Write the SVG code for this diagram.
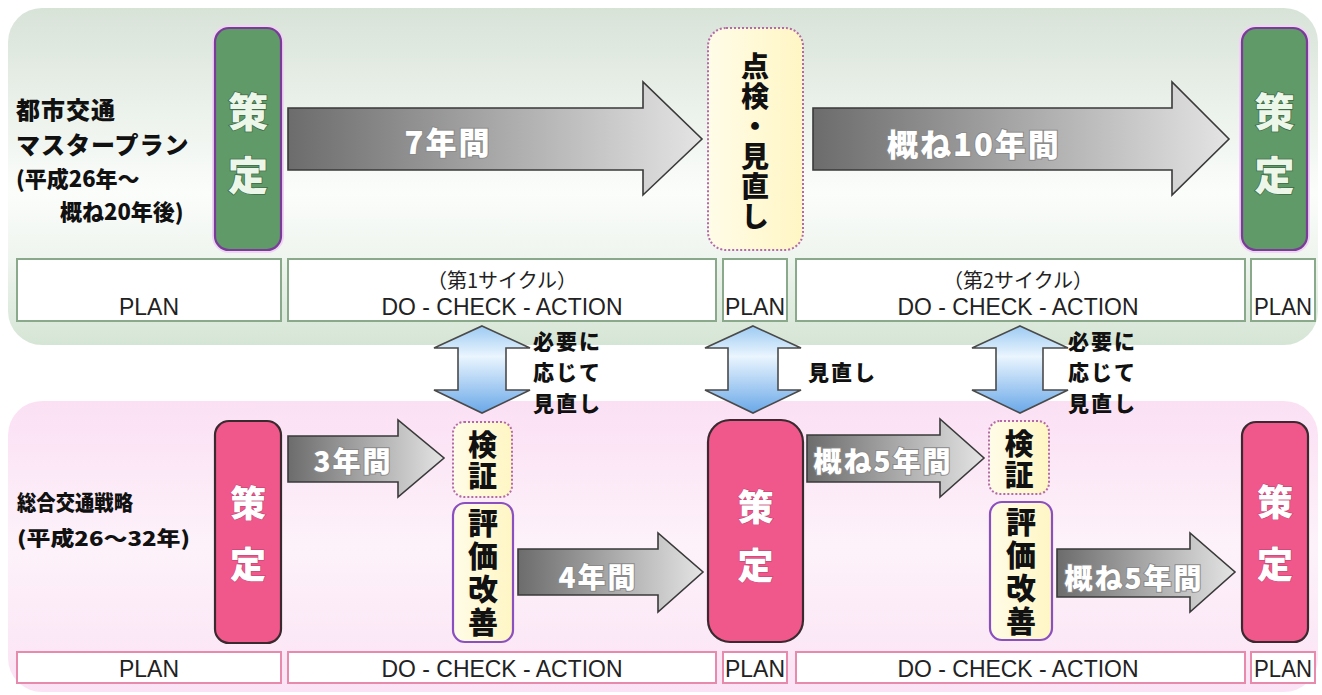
<svg xmlns="http://www.w3.org/2000/svg" width="1322" height="695" viewBox="0 0 1322 695">
<defs>
  <linearGradient id="gTop" x1="0" y1="0" x2="0" y2="1">
    <stop offset="0" stop-color="#d8e3d8"/>
    <stop offset="0.55" stop-color="#fbfdfb"/>
    <stop offset="0.75" stop-color="#eef4ee"/>
    <stop offset="1" stop-color="#d5e5d5"/>
  </linearGradient>
  <linearGradient id="gBot" x1="0" y1="0" x2="0" y2="1">
    <stop offset="0" stop-color="#fbe0f4"/>
    <stop offset="0.5" stop-color="#fdf2fa"/>
    <stop offset="1" stop-color="#fbe3f5"/>
  </linearGradient>
  <linearGradient id="gArrow" x1="0" y1="0" x2="1" y2="0">
    <stop offset="0" stop-color="#6c6c6c"/>
    <stop offset="1" stop-color="#e4e4e4"/>
  </linearGradient>
  <linearGradient id="gBlue" x1="0" y1="0" x2="0" y2="1">
    <stop offset="0" stop-color="#9ccaf2"/>
    <stop offset="0.35" stop-color="#eaf5fe"/>
    <stop offset="1" stop-color="#6aa8e8"/>
  </linearGradient>
  <linearGradient id="gYellow" x1="0" y1="0" x2="1" y2="0">
    <stop offset="0" stop-color="#fffce8"/>
    <stop offset="1" stop-color="#fff6c4"/>
  </linearGradient>
  <style>
    .jp { font-family: "Noto Sans CJK JP", "Noto Sans", sans-serif; }
    .lat { font-family: "Liberation Sans", Arial, sans-serif; }
    .lbl { font-family: "Noto Sans CJK JP", sans-serif; font-weight: 900; fill: #111; }
    .arrow { fill: url(#gArrow); stroke: #3a3a3a; stroke-width: 1.6; }
    .dbl { fill: url(#gBlue); stroke: #4a4a4a; stroke-width: 1.6; }
    .atxt { font-family: "Noto Sans CJK JP", sans-serif; font-weight: 900; fill: #ffffff; stroke: #8a8a8a; stroke-width: 2; paint-order: stroke; text-anchor: middle; dominant-baseline: central; letter-spacing: 2px; }
    .gbox { fill: #5f9a68; stroke: #7a3c98; stroke-width: 2.2; }
    .gglow { fill: none; stroke: #efd4f3; stroke-width: 6; }
    .gtxt { font-family: "Noto Sans CJK JP", sans-serif; font-weight: 900; fill: #ecf7ea; stroke: #3f6a46; stroke-width: 1.5; paint-order: stroke; text-anchor: middle; dominant-baseline: central; font-size: 40px; }
    .pbox { fill: #f0588c; stroke: #3a2a30; stroke-width: 2.2; }
    .ptxt { font-family: "Noto Sans CJK JP", sans-serif; font-weight: 900; fill: #ffffff; stroke: #c04070; stroke-width: 1; paint-order: stroke; text-anchor: middle; dominant-baseline: central; font-size: 36px; }
    .ybox { fill: url(#gYellow); stroke: #b46aa8; stroke-width: 2; stroke-dasharray: 2 2; }
    .ebox { fill: url(#gYellow); stroke: #8a4fc0; stroke-width: 2.2; }
    .vtxt { font-family: "Noto Sans CJK JP", sans-serif; font-weight: 900; fill: #111; text-anchor: middle; writing-mode: vertical-rl; }
    .tcell { fill: #ffffff; stroke: #8aa88a; stroke-width: 2; }
    .bcell { fill: #ffffff; stroke: #e88aac; stroke-width: 2; }
    .ctxt { fill: #222; text-anchor: middle; }
  </style>
</defs>

<rect x="0" y="0" width="1322" height="695" fill="#ffffff"/>

<!-- panels -->
<g id="panel-top">
  <rect x="8" y="8" width="1310" height="337" rx="34" fill="url(#gTop)"/>
</g>
<g id="panel-bottom">
  <rect x="8" y="401" width="1310" height="291" rx="34" fill="url(#gBot)"/>
</g>

<!-- titles -->
<g id="title-top" class="lbl">
  <text x="16" y="108" font-size="24" letter-spacing="1" dominant-baseline="central">都市交通</text>
  <text x="16" y="143" font-size="24" letter-spacing="1" dominant-baseline="central">マスタープラン</text>
  <text x="16" y="177" dominant-baseline="central" font-size="22">(平成26年～</text>
  <text x="60" y="210" dominant-baseline="central" font-size="22">概ね20年後)</text>
</g>
<g id="title-bottom" class="lbl">
  <text x="17" y="501" font-size="21" dominant-baseline="central" textLength="116" lengthAdjust="spacingAndGlyphs">総合交通戦略</text>
  <text x="17" y="537" font-size="20" dominant-baseline="central" textLength="173" lengthAdjust="spacingAndGlyphs">(平成26～32年)</text>
</g>

<!-- top row nodes -->
<g id="top-sakutei-1">
  <rect class="gglow" x="215" y="28" width="66" height="222" rx="14"/>
  <rect class="gbox" x="215" y="28" width="66" height="222" rx="14"/>
  <text class="gtxt" x="248" y="110">策</text>
  <text class="gtxt" x="248" y="173">定</text>
</g>
<g id="top-tenken">
  <rect class="ybox" x="708" y="28" width="95" height="222" rx="18"/>
  <text class="vtxt" font-size="28" letter-spacing="2" x="755" y="142.5">点検・見直し</text>
</g>
<g id="top-sakutei-2">
  <rect class="gglow" x="1242" y="28" width="65" height="222" rx="14"/>
  <rect class="gbox" x="1242" y="28" width="65" height="222" rx="14"/>
  <text class="gtxt" x="1274.5" y="110">策</text>
  <text class="gtxt" x="1274.5" y="173">定</text>
</g>

<!-- top phase cells -->
<g id="top-cells">
  <rect class="tcell" x="17" y="259" width="264" height="62"/>
  <rect class="tcell" x="288" y="259" width="428" height="62"/>
  <rect class="tcell" x="723" y="259" width="64" height="62"/>
  <rect class="tcell" x="796" y="259" width="449" height="62"/>
  <rect class="tcell" x="1251" y="259" width="64" height="62"/>
  <text class="ctxt lat" x="149" y="315" font-size="24" textLength="60" lengthAdjust="spacingAndGlyphs">PLAN</text>
  <text class="ctxt jp" x="502" y="288" font-size="20">（第1サイクル）</text>
  <text class="ctxt lat" x="502" y="315" font-size="24" textLength="241" lengthAdjust="spacingAndGlyphs">DO - CHECK - ACTION</text>
  <text class="ctxt lat" x="755" y="315" font-size="24" textLength="60" lengthAdjust="spacingAndGlyphs">PLAN</text>
  <text class="ctxt jp" x="1018" y="288" font-size="20">（第2サイクル）</text>
  <text class="ctxt lat" x="1018" y="315" font-size="24" textLength="241" lengthAdjust="spacingAndGlyphs">DO - CHECK - ACTION</text>
  <text class="ctxt lat" x="1283" y="315" font-size="24" textLength="58" lengthAdjust="spacingAndGlyphs">PLAN</text>
</g>

<!-- bottom row nodes -->
<g id="bot-sakutei-1">
  <rect class="pbox" x="215" y="421" width="66" height="222" rx="14"/>
  <text class="ptxt" x="248" y="501">策</text>
  <text class="ptxt" x="248" y="562">定</text>
</g>
<g id="bot-kensho-1">
  <rect class="ybox" x="453" y="422" width="59" height="75" rx="11"/>
  <text class="vtxt" font-size="29" letter-spacing="2" x="482.5" y="461">検証</text>
</g>
<g id="bot-hyoka-1">
  <rect class="ebox" x="453" y="503" width="60" height="139" rx="12"/>
  <text class="vtxt" font-size="30" letter-spacing="3" x="483" y="574">評価改善</text>
</g>
<g id="bot-sakutei-2">
  <rect class="pbox" x="708" y="420" width="95" height="222" rx="22"/>
  <text class="ptxt" x="755.5" y="505">策</text>
  <text class="ptxt" x="755.5" y="563">定</text>
</g>
<g id="bot-kensho-2">
  <rect class="ybox" x="989" y="421" width="60" height="73" rx="11"/>
  <text class="vtxt" font-size="29" letter-spacing="2" x="1019" y="460">検証</text>
</g>
<g id="bot-hyoka-2">
  <rect class="ebox" x="990" y="502" width="62" height="138" rx="12"/>
  <text class="vtxt" font-size="30" letter-spacing="3" x="1021" y="573">評価改善</text>
</g>
<g id="bot-sakutei-3">
  <rect class="pbox" x="1242" y="422" width="66" height="220" rx="14"/>
  <text class="ptxt" x="1275" y="500">策</text>
  <text class="ptxt" x="1275" y="562">定</text>
</g>

<!-- bottom phase cells -->
<g id="bottom-cells">
  <rect class="bcell" x="17" y="652" width="264" height="31"/>
  <rect class="bcell" x="288" y="652" width="428" height="31"/>
  <rect class="bcell" x="723" y="652" width="64" height="31"/>
  <rect class="bcell" x="796" y="652" width="449" height="31"/>
  <rect class="bcell" x="1251" y="652" width="64" height="31"/>
  <text class="ctxt lat" x="149" y="677" font-size="24" textLength="60" lengthAdjust="spacingAndGlyphs">PLAN</text>
  <text class="ctxt lat" x="502" y="677" font-size="24" textLength="241" lengthAdjust="spacingAndGlyphs">DO - CHECK - ACTION</text>
  <text class="ctxt lat" x="755" y="677" font-size="24" textLength="60" lengthAdjust="spacingAndGlyphs">PLAN</text>
  <text class="ctxt lat" x="1018" y="677" font-size="24" textLength="241" lengthAdjust="spacingAndGlyphs">DO - CHECK - ACTION</text>
  <text class="ctxt lat" x="1283" y="677" font-size="24" textLength="58" lengthAdjust="spacingAndGlyphs">PLAN</text>
</g>

<!-- connectors -->
<g id="connectors">
  <polygon class="arrow" points="288,108 643,108 643,82 702,139 643,195 643,170 288,170"/>
  <text class="atxt" x="448" y="140" font-size="31">7年間</text>
  <polygon class="arrow" points="813,108 1172,108 1172,82 1229,139 1172,195 1172,170 813,170"/>
  <text class="atxt" x="974" y="142" font-size="31">概ね10年間</text>

  <polygon class="arrow" points="288,436 398,436 398,420 444,458 398,497 398,482 288,482"/>
  <text class="atxt" x="353" y="460" font-size="28">3年間</text>
  <polygon class="arrow" points="518,549 658,549 658,533 703,572 658,612 658,595 518,595"/>
  <text class="atxt" x="598" y="576" font-size="28">4年間</text>
  <polygon class="arrow" points="807,435 940,435 940,419 984,458 940,497 940,482 807,482"/>
  <text class="atxt" x="883" y="460" font-size="28">概ね5年間</text>
  <polygon class="arrow" points="1057,549 1190,549 1190,533 1235,572 1190,612 1190,597 1057,597"/>
  <text class="atxt" x="1134" y="577" font-size="28">概ね5年間</text>

  <polygon class="dbl" points="482,326 530,348 506,348 506,390 530,390 482,413 434,390 458,390 458,348 434,348"/>
  <polygon class="dbl" points="753,326 801,348 778,348 778,390 801,390 753,413 705,390 728,390 728,348 705,348"/>
  <polygon class="dbl" points="1020,326 1068,348 1043,348 1043,390 1068,390 1020,413 972,390 996,390 996,348 972,348"/>

  <g class="lbl" font-size="21" letter-spacing="2">
    <text x="533" y="340" dominant-baseline="central">必要に</text>
    <text x="533" y="371" dominant-baseline="central">応じて</text>
    <text x="533" y="402" dominant-baseline="central">見直し</text>
    <text x="808" y="371" dominant-baseline="central">見直し</text>
    <text x="1068" y="340" dominant-baseline="central">必要に</text>
    <text x="1068" y="371" dominant-baseline="central">応じて</text>
    <text x="1068" y="402" dominant-baseline="central">見直し</text>
  </g>
</g>
</svg>
